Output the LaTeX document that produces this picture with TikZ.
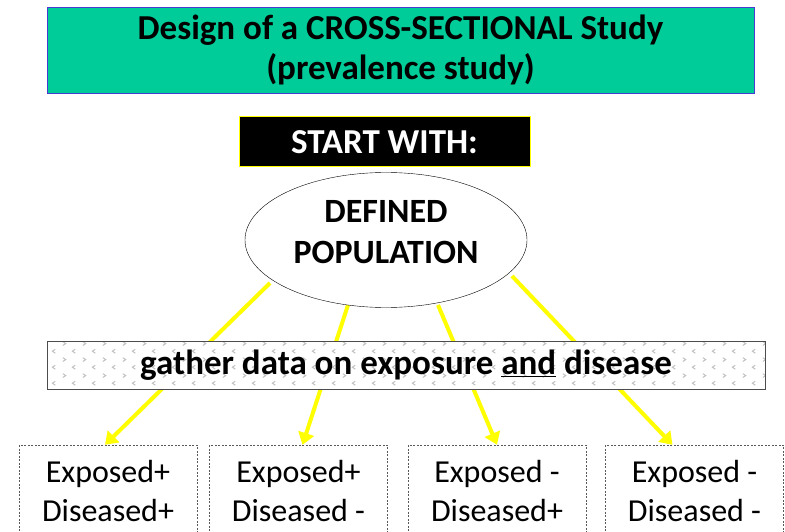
\documentclass[tikz,border=0pt]{standalone}
\usepackage{fontspec}
\setmainfont{Carlito}
\usetikzlibrary{arrows.meta,calc,shapes.geometric,patterns}

\definecolor{titlegreen}{RGB}{0,204,153}
\definecolor{titleblue}{RGB}{70,60,210}
\definecolor{arrowyellow}{RGB}{255,255,0}

% small > and < marks for the banner
\pgfdeclarepatternformonly{chevrons}{\pgfpointorigin}{\pgfpoint{20pt}{16pt}}{\pgfpoint{20pt}{16pt}}{
  \pgfsetlinewidth{1pt}
  \pgfpathmoveto{\pgfpoint{3pt}{15pt}}
  \pgfpathlineto{\pgfpoint{6pt}{13pt}}
  \pgfpathlineto{\pgfpoint{3pt}{11pt}}
  \pgfpathmoveto{\pgfpoint{16pt}{7pt}}
  \pgfpathlineto{\pgfpoint{13pt}{5pt}}
  \pgfpathlineto{\pgfpoint{16pt}{3pt}}
  \pgfusepath{stroke}
}

\begin{document}
\begin{tikzpicture}[x=1pt, y=-1pt,
    titlebox/.style={draw=titleblue, fill=titlegreen, minimum width=707pt, minimum height=86pt,
      align=center, font=\bfseries\fontsize{35}{40}\selectfont},
    startbox/.style={draw=arrowyellow, line width=1pt, fill=black, text=white, minimum width=291pt, minimum height=50pt,
      font=\bfseries\fontsize{35}{40}\selectfont},
    population/.style={ellipse, draw, fill=white, minimum width=282pt, minimum height=135pt, inner sep=0pt},
    poptext/.style={align=center, font=\bfseries\fontsize{34}{41}\selectfont},
    banner/.style={draw=gray!60!black, preaction={fill=white}, pattern=chevrons, pattern color=gray!50,
      minimum width=718pt, minimum height=48pt, font=\bfseries\fontsize{35}{40}\selectfont},
    group/.style={draw=gray!70!black, dash pattern=on 2pt off 1.5pt, minimum width=178pt, minimum height=92pt,
      align=center, font=\fontsize{32}{39}\selectfont},
    feed/.style={draw=arrowyellow, line width=4pt, -{Triangle[width=16pt, length=12pt]}}]
    \useasboundingbox (0,0) rectangle (785,532);
    % heading
    \node[titlebox] (title) at (400.5,50) {Design of a CROSS-SECTIONAL Study\\(prevalence study)};
    \node[startbox] (start) at (384.5,142) {START WITH:};
    % four groups
    \node[group] (b1) at (108,491) {Exposed+\\Diseased+};
    \node[group] (b2) at (298.5,491) {Exposed+\\Diseased -};
    \node[group] (b3) at (497,491) {Exposed -\\Diseased+};
    \node[group] (b4) at (694.5,491) {Exposed -\\Diseased -};
    % yellow arrows
    \coordinate (s1) at (270,283);
    \coordinate (s2) at (348,305);
    \coordinate (s3) at (438,305);
    \coordinate (s4) at (512,276);
    \draw[feed] (s1) -- ($(b1.north)+(-3,0)$);
    \draw[feed] (s2) -- ($(b2.north)+(4,0)$);
    \draw[feed] (s3) -- (b3.north);
    \draw[feed] (s4) -- ($(b4.north)+(-22,0)$);
    % population
    \node[population] (pop) at (386,240) {};
    \node[poptext, yshift=7.5pt] (poplabel) at (pop.center) {DEFINED\\POPULATION};
    % banner
    \node[banner] (gather) at (406,365) {gather data on exposure \underline{and} disease};
\end{tikzpicture}
\end{document}
